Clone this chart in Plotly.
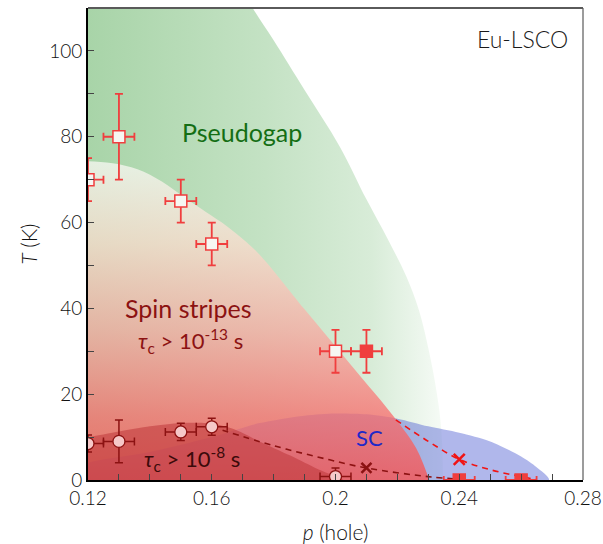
import plotly.graph_objects as go

# ---------------- data ----------------
# Pseudogap region: boundary T*(p); first/last points lie outside the axes (clipped)
pg_p = [0.10, 0.10, 0.1655, 0.1732, 0.18, 0.19, 0.2013, 0.21, 0.217, 0.2229, 0.227, 0.2303, 0.2328, 0.2342, 0.2348, 0.2349]
pg_T = [-5, 120, 120, 110, 102.5, 90.9, 77.8, 65.4, 56.0, 47.4, 39.5, 29.7, 20.0, 11.7, 0, -5]

# Spin-stripe region (tau_c > 1e-13 s)
st_p = [0.11, 0.12, 0.128, 0.136, 0.144, 0.152, 0.158, 0.165, 0.171, 0.176, 0.19, 0.205, 0.2197, 0.226, 0.2303, 0.2315, 0.11]
st_T = [74.5, 74.3, 73.8, 72.4, 69.5, 65.4, 62.5, 59.1, 55.6, 52.1, 39.8, 26.8, 14.0, 7.5, 0, -3, -3]

# Slow spin-stripe region (tau_c > 1e-8 s)
sl_p = [0.112, 0.12, 0.13, 0.14, 0.15, 0.16, 0.168, 0.176, 0.185, 0.193, 0.2, 0.2025, 0.112]
sl_T = [9.5, 10.0, 11.3, 12.5, 13.3, 13.2, 11.6, 8.8, 5.8, 3.0, 0.8, 0, 0]

# Superconducting dome
sc_p = [0.105, 0.12, 0.14, 0.16, 0.175, 0.19, 0.2, 0.21, 0.22, 0.23, 0.24, 0.25, 0.26, 0.265, 0.269, 0.105]
sc_T = [0, 4.0, 6.5, 10.0, 13.2, 15.0, 15.5, 15.3, 14.3, 12.5, 11.0, 9.0, 5.5, 3.0, 0, 0]

# dashed guide lines
d1_p = [0.16, 0.18, 0.1981, 0.21, 0.231, 0.24]
d1_T = [12.4, 8.0, 4.7, 2.8, 0.7, 0.2]
d2_p = [0.2195, 0.23, 0.24, 0.25, 0.26, 0.265]
d2_T = [14.0, 9.0, 4.8, 2.4, 0.8, 0.1]

# open squares
sq_p = [0.12, 0.13, 0.15, 0.16, 0.20]
sq_T = [70, 80, 65, 55, 30]
sq_dp = [0.005, 0.005, 0.005, 0.005, 0.005]
sq_dT = [5, 10, 5, 5, 5]

# filled squares
fs_p = [0.21, 0.24, 0.26]
fs_T = [30, 0, 0]
fs_dp = [0.005, 0.005, 0.005]
fs_dT = [5, 0, 0]

# circles
ci_p = [0.12, 0.13, 0.15, 0.16, 0.20]
ci_T = [8.5, 9.0, 11.2, 12.4, 0.8]
ci_dp = [0.005, 0.005, 0.005, 0.005, 0.005]
ci_dT = [2, 5, 2, 2, 2]

# crosses
x1_p, x1_T = [0.21], [2.8]
x2_p, x2_T = [0.24], [4.8]

xtick_vals = [0.12, 0.16, 0.20, 0.24, 0.28]
xtick_text = ["0.12", "0.16", "0.2", "0.24", "0.28"]
ytick_vals = [0, 20, 40, 60, 80, 100]

FONT = "Lato"
RED = "rgb(240,62,62)"
DRED = "rgb(140,18,18)"

fig = go.Figure()

fig.add_trace(go.Scatter(
    x=pg_p, y=pg_T, mode="lines", line=dict(width=0, shape="spline", smoothing=1.0),
    fill="toself", fillcolor="rgb(200,228,200)",
    fillgradient=dict(type="horizontal", start=0.12, stop=0.2348,
                      colorscale=[[0, "rgb(168,212,168)"], [0.5, "rgb(196,226,196)"],
                                  [0.8, "rgb(216,236,216)"], [1, "rgb(246,251,246)"]]),
    hoverinfo="skip", showlegend=False))

fig.add_trace(go.Scatter(
    x=sc_p, y=sc_T, mode="lines", line=dict(width=0, shape="spline", smoothing=0.8),
    fill="toself", fillcolor="rgba(80,95,210,0.45)",
    hoverinfo="skip", showlegend=False))

fig.add_trace(go.Scatter(
    x=st_p, y=st_T, mode="lines", line=dict(width=0, shape="spline", smoothing=1.0),
    fill="toself", fillcolor="rgba(240,150,140,0.7)",
    fillgradient=dict(type="vertical", start=0, stop=74.3,
                      colorscale=[[0, "rgba(248,82,80,0.78)"], [0.2, "rgba(249,107,107,0.75)"],
                                  [0.47, "rgba(250,167,160,0.72)"], [0.74, "rgba(254,219,206,0.72)"],
                                  [1, "rgba(250,250,246,0.74)"]]),
    hoverinfo="skip", showlegend=False))

fig.add_trace(go.Scatter(
    x=sl_p, y=sl_T, mode="lines", line=dict(width=0, shape="spline", smoothing=0.6),
    fill="toself", fillcolor="rgba(190,55,58,0.55)",
    hoverinfo="skip", showlegend=False))

fig.add_trace(go.Scatter(x=d1_p, y=d1_T, mode="lines",
                         line=dict(color=DRED, width=1.6, dash="6px,5px", shape="spline"),
                         hoverinfo="skip", showlegend=False))
fig.add_trace(go.Scatter(x=d2_p, y=d2_T, mode="lines",
                         line=dict(color="rgb(240,20,20)", width=1.6, dash="6px,5px", shape="spline"),
                         hoverinfo="skip", showlegend=False))

fig.add_trace(go.Scatter(x=x1_p, y=x1_T, mode="markers",
                         marker=dict(symbol="x-thin", size=10, line=dict(color=DRED, width=2.5)),
                         showlegend=False))
fig.add_trace(go.Scatter(x=x2_p, y=x2_T, mode="markers",
                         marker=dict(symbol="x-thin", size=11, line=dict(color="rgb(240,20,20)", width=2.5)),
                         showlegend=False))

fig.add_trace(go.Scatter(
    x=ci_p, y=ci_T, mode="markers",
    error_x=dict(type="data", array=ci_dp, color=DRED, thickness=1.5, width=4),
    error_y=dict(type="data", array=ci_dT, color=DRED, thickness=1.5, width=4),
    marker=dict(symbol="circle", size=12, color="rgb(246,200,200)", line=dict(color=DRED, width=1.3)),
    showlegend=False))

fig.add_trace(go.Scatter(
    x=sq_p, y=sq_T, mode="markers",
    error_x=dict(type="data", array=sq_dp, color=RED, thickness=1.8, width=4),
    error_y=dict(type="data", array=sq_dT, color=RED, thickness=1.8, width=4),
    marker=dict(symbol="square", size=12, color="rgb(246,246,242)", line=dict(color=RED, width=1.5)),
    showlegend=False))

fig.add_trace(go.Scatter(
    x=fs_p, y=fs_T, mode="markers",
    error_x=dict(type="data", array=fs_dp, color=RED, thickness=1.8, width=4),
    error_y=dict(type="data", array=fs_dT, color=RED, thickness=1.8, width=4),
    marker=dict(symbol="square", size=12, color=RED, line=dict(color=RED, width=1.5)),
    showlegend=False))

annotations = [
    dict(x=0.2603, y=102.8, text="Eu-LSCO", font=dict(family=FONT, size=23, color="#1a1a1a", weight=300)),
    dict(x=0.1697, y=81.1, text="Pseudogap", font=dict(family=FONT, size=25, color="rgb(20,110,20)")),
    dict(x=0.1526, y=40.0, text="Spin stripes", font=dict(family=FONT, size=25, color=DRED)),
    dict(x=0.1532, y=32.5, text="<i>τ</i><sub>c</sub> > 10<sup>-13</sup> s",
         font=dict(family=FONT, size=22, color=DRED)),
    dict(x=0.1536, y=5.0, text="<i>τ</i><sub>c</sub> > 10<sup>-8</sup> s",
         font=dict(family=FONT, size=22, color="rgb(60,10,10)")),
    dict(x=0.211, y=10.0, text="SC", font=dict(family=FONT, size=22, color="rgb(30,40,200)")),
]
for a in annotations:
    a.update(xref="x", yref="y", showarrow=False, xanchor="center", yanchor="middle")

fig.update_layout(
    width=603, height=544,
    margin=dict(l=88, r=20, t=8, b=64, autoexpand=False),
    paper_bgcolor="white", plot_bgcolor="white",
    font=dict(family=FONT, size=18, color="#111"),
    annotations=annotations,
    shapes=[
        dict(type="line", xref="paper", yref="paper", x0=0, x1=1, y0=1, y1=1,
             line=dict(color="rgb(90,90,90)", width=2)),
        dict(type="line", xref="paper", yref="paper", x0=1, x1=1, y0=0, y1=1,
             line=dict(color="rgb(90,90,90)", width=1.2)),
    ],
    xaxis=dict(range=[0.12, 0.28], tickvals=xtick_vals, ticktext=xtick_text, automargin=False,
               ticks="inside", ticklen=6, tickwidth=1.3, tickcolor="#444",
               minor=dict(dtick=0.01, tick0=0.12, ticks="inside", ticklen=6, tickwidth=1.3, tickcolor="#444"),
               showline=True, linecolor="black", linewidth=1.6, showgrid=False, zeroline=False,
               tickfont=dict(size=19, color="#111", weight=300),
               title=dict(text="<i>p</i> (hole)", font=dict(size=21, color="#111", weight=300), standoff=20)),
    yaxis=dict(range=[0, 110], tickvals=ytick_vals, automargin=False,
               ticks="inside", ticklen=6, tickwidth=1.3, tickcolor="#444",
               minor=dict(dtick=10, tick0=0, ticks="inside", ticklen=6, tickwidth=1.3, tickcolor="#444"),
               showline=True, linecolor="black", linewidth=1.6, showgrid=False, zeroline=False,
               tickfont=dict(size=19, color="#111", weight=300),
               title=dict(text="<i>T</i> (K)", font=dict(size=21, color="#111", weight=300), standoff=6)),
)

fig.write_html("out.html")
